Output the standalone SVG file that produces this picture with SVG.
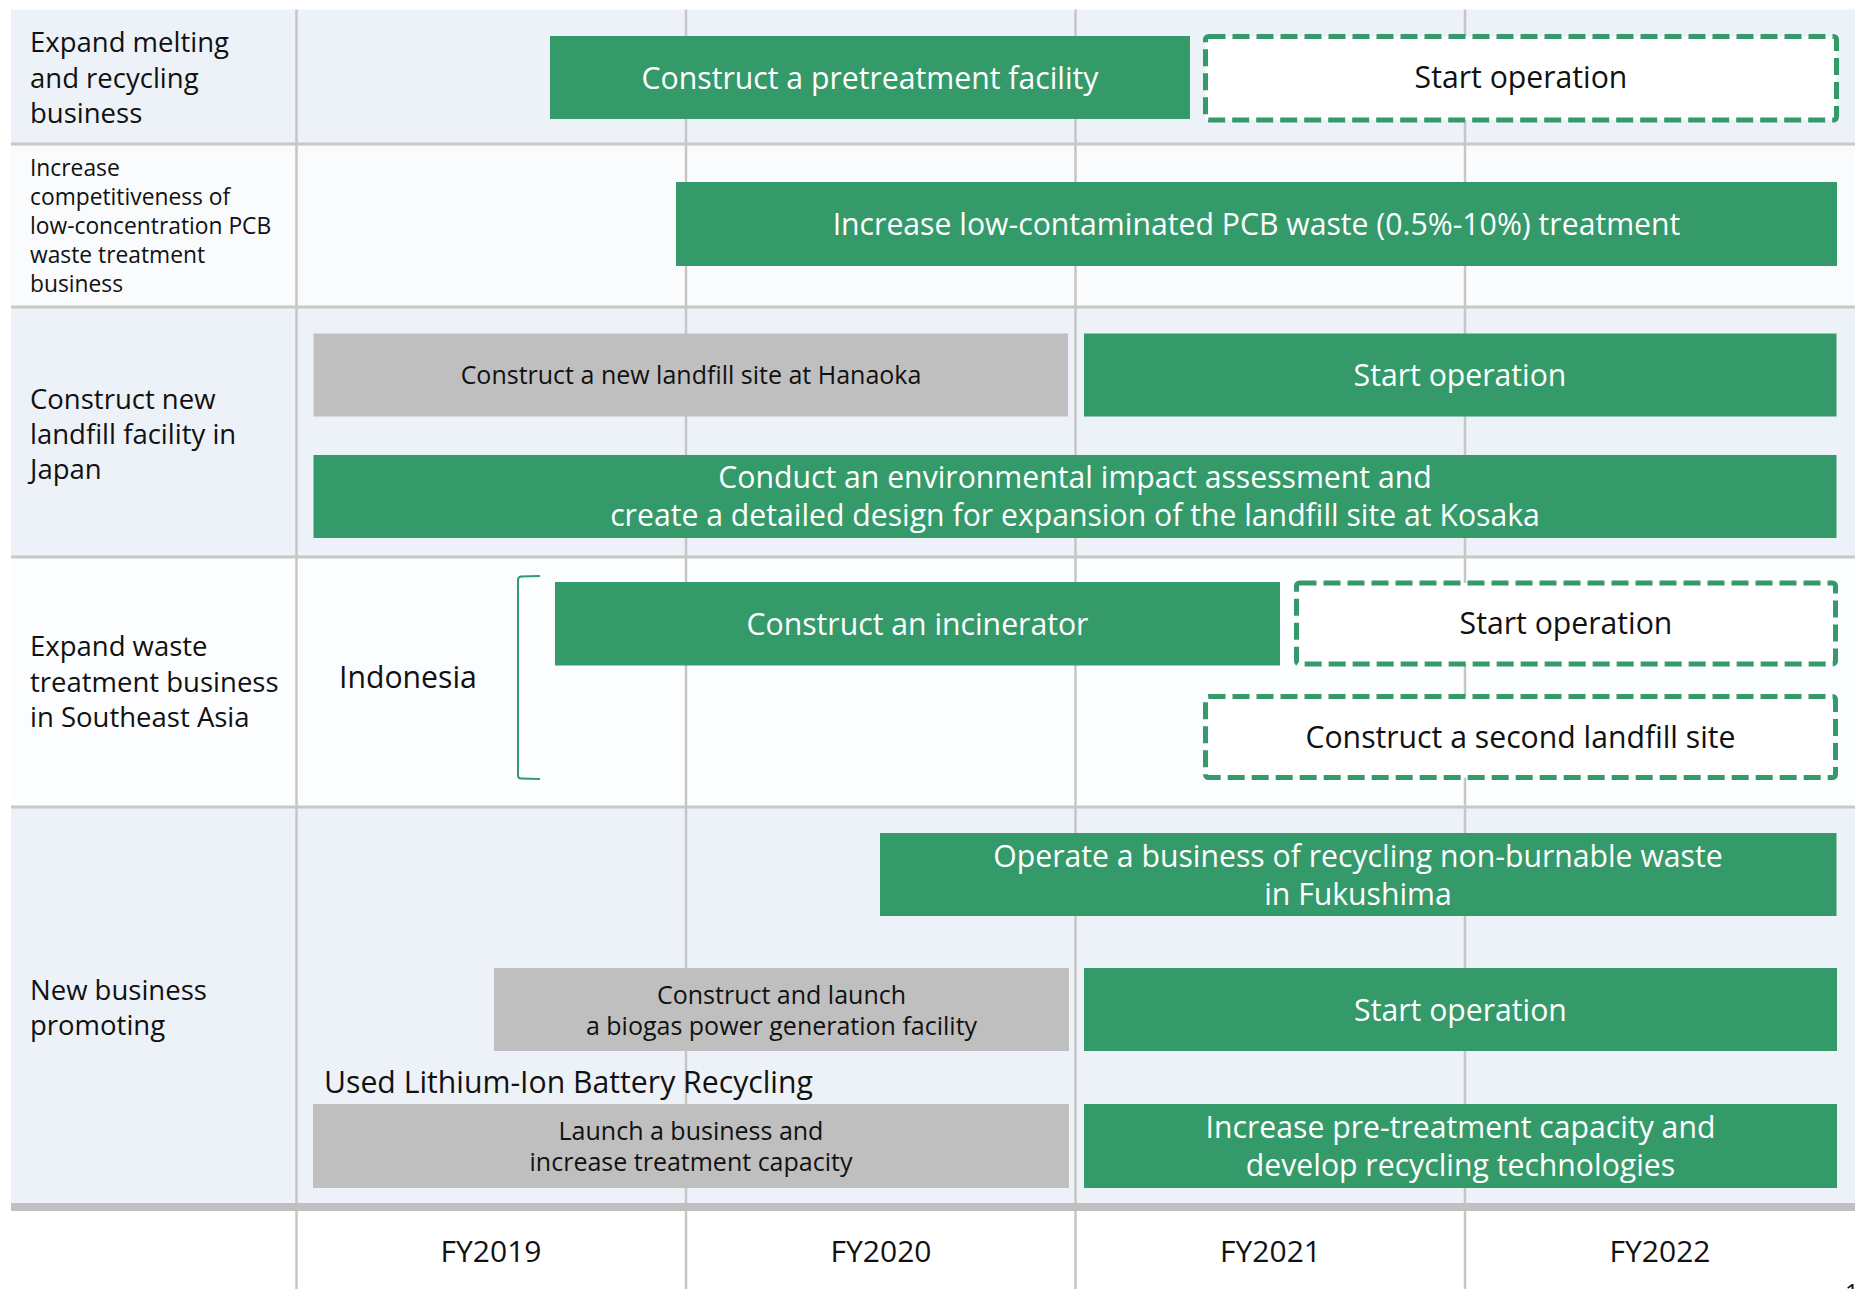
<svg xmlns="http://www.w3.org/2000/svg" width="1855" height="1289" viewBox="0 0 1855 1289">
  <style>
    text { font-family: "Open Sans", "Noto Sans", "Liberation Sans", sans-serif; }
    .lbl { font-size: 27.5px; fill: #111; }
    .lbl-s { font-size: 22.8px; fill: #111; }
    .bar { fill: #359a6a; }
    .gbar { fill: #bfbfbf; }
    .dbar { fill: #ffffff; stroke: #359a6a; stroke-width: 5; stroke-dasharray: 17 7; }
    .tw { font-size: 30.2px; fill: #ffffff; text-anchor: middle; }
    .tb { font-size: 30.2px; fill: #111; text-anchor: middle; }
    .tg { font-size: 25px; fill: #111; text-anchor: middle; }
    .vline { stroke: #c6c6c6; stroke-width: 2.5; }
    .hline { stroke: #c8c8c8; stroke-width: 3; }
    .yr { font-size: 30px; fill: #111; text-anchor: middle; }
  </style>

  <rect x="0" y="0" width="1855" height="1289" fill="#ffffff"/>

  <!-- row backgrounds -->
  <g id="rows">
    <rect x="11" y="9.5" width="1844" height="134.5" fill="#edf1f8"/>
    <rect x="11" y="144" width="1844" height="163" fill="#fafbfd"/>
    <rect x="11" y="307" width="1844" height="250" fill="#edf1f8"/>
    <rect x="11" y="557" width="1844" height="250" fill="#fcfdfe"/>
    <rect x="11" y="807" width="1844" height="396" fill="#edf1f8"/>
  </g>

  <!-- grid -->
  <g id="grid">
    <line class="vline" x1="296.5" y1="9.5" x2="296.5" y2="1289"/>
    <line class="vline" x1="686" y1="9.5" x2="686" y2="1289"/>
    <line class="vline" x1="1075.5" y1="9.5" x2="1075.5" y2="1289"/>
    <line class="vline" x1="1465" y1="9.5" x2="1465" y2="1289"/>
    <line class="hline" x1="11" y1="144" x2="1855" y2="144"/>
    <line class="hline" x1="11" y1="307" x2="1855" y2="307"/>
    <line class="hline" x1="11" y1="557" x2="1855" y2="557"/>
    <line class="hline" x1="11" y1="807" x2="1855" y2="807"/>
    <rect x="11" y="1203" width="1844" height="8" fill="#c0c0c0"/>
  </g>

  <!-- row labels -->
  <g id="label-melting">
    <text class="lbl" x="30" y="52">Expand melting</text>
    <text class="lbl" x="30" y="87.5">and recycling</text>
    <text class="lbl" x="30" y="123">business</text>
  </g>
  <g id="label-pcb">
    <text class="lbl-s" x="30" y="176">Increase</text>
    <text class="lbl-s" x="30" y="205">competitiveness of</text>
    <text class="lbl-s" x="30" y="234">low-concentration PCB</text>
    <text class="lbl-s" x="30" y="263">waste treatment</text>
    <text class="lbl-s" x="30" y="292">business</text>
  </g>
  <g id="label-landfill">
    <text class="lbl" x="30" y="409">Construct new</text>
    <text class="lbl" x="30" y="444">landfill facility in</text>
    <text class="lbl" x="30" y="479">Japan</text>
  </g>
  <g id="label-sea">
    <text class="lbl" x="30" y="656">Expand waste</text>
    <text class="lbl" x="30" y="692">treatment business</text>
    <text class="lbl" x="30" y="727">in Southeast Asia</text>
  </g>
  <g id="label-new">
    <text class="lbl" x="30" y="1000">New business</text>
    <text class="lbl" x="30" y="1035">promoting</text>
  </g>

  <!-- row 1 -->
  <g id="pretreatment">
    <rect class="bar" x="550" y="36" width="640" height="83"/>
    <text class="tw" x="870" y="88.5">Construct a pretreatment facility</text>
  </g>
  <g id="pretreatment-start">
    <rect class="dbar" x="1205.5" y="36.5" width="631" height="83.5" rx="3"/>
    <text class="tb" x="1521" y="88">Start operation</text>
  </g>

  <!-- row 2 -->
  <g id="pcb-increase">
    <rect class="bar" x="676" y="182" width="1161" height="84"/>
    <text class="tw" x="1256.5" y="235">Increase low-contaminated PCB waste (0.5%-10%) treatment</text>
  </g>

  <!-- row 3 -->
  <g id="hanaoka">
    <rect class="gbar" x="313.5" y="333.5" width="754.5" height="83"/>
    <text class="tg" x="691" y="384">Construct a new landfill site at Hanaoka</text>
  </g>
  <g id="hanaoka-start">
    <rect class="bar" x="1084" y="333.5" width="752.5" height="83"/>
    <text class="tw" x="1460" y="386">Start operation</text>
  </g>
  <g id="kosaka">
    <rect class="bar" x="313.5" y="455" width="1523" height="83"/>
    <text class="tw" x="1075" y="488">Conduct an environmental impact assessment and</text>
    <text class="tw" x="1075" y="526">create a detailed design for expansion of the landfill site at Kosaka</text>
  </g>

  <!-- row 4 -->
  <g id="indonesia">
    <text class="tb" x="339" y="688" style="text-anchor:start">Indonesia</text>
    <path d="M540 576 L521 576.5 Q518 577 518 580 L518 775 Q518 778.5 521 778.5 L540 779" fill="none" stroke="#359a6a" stroke-width="2"/>
  </g>
  <g id="incinerator">
    <rect class="bar" x="555" y="582" width="725" height="83.5"/>
    <text class="tw" x="917.5" y="635">Construct an incinerator</text>
  </g>
  <g id="incinerator-start">
    <rect class="dbar" x="1296.5" y="583" width="539" height="81" rx="3"/>
    <text class="tb" x="1566" y="634">Start operation</text>
  </g>
  <g id="second-landfill">
    <rect class="dbar" x="1205.5" y="696.5" width="630" height="81" rx="3"/>
    <text class="tb" x="1520.5" y="748">Construct a second landfill site</text>
  </g>

  <!-- row 5 -->
  <g id="fukushima">
    <rect class="bar" x="880" y="833" width="956.5" height="83"/>
    <text class="tw" x="1358" y="867">Operate a business of recycling non-burnable waste</text>
    <text class="tw" x="1358" y="905">in Fukushima</text>
  </g>
  <g id="biogas">
    <rect class="gbar" x="494" y="968" width="575" height="83"/>
    <text class="tg" x="781.5" y="1003.5">Construct and launch</text>
    <text class="tg" x="781.5" y="1035">a biogas power generation facility</text>
  </g>
  <g id="biogas-start">
    <rect class="bar" x="1084" y="968" width="753" height="83"/>
    <text class="tw" x="1460.5" y="1020.5">Start operation</text>
  </g>
  <g id="battery">
    <text class="tb" x="324" y="1093" style="text-anchor:start">Used Lithium-Ion Battery Recycling</text>
  </g>
  <g id="battery-launch">
    <rect class="gbar" x="313" y="1104" width="756" height="84"/>
    <text class="tg" x="691" y="1140">Launch a business and</text>
    <text class="tg" x="691" y="1171">increase treatment capacity</text>
  </g>
  <g id="battery-increase">
    <rect class="bar" x="1084" y="1104" width="753" height="84"/>
    <text class="tw" x="1460.5" y="1138">Increase pre-treatment capacity and</text>
    <text class="tw" x="1460.5" y="1176">develop recycling technologies</text>
  </g>

  <!-- fiscal years -->
  <g id="years">
    <text class="yr" x="491" y="1262">FY2019</text>
    <text class="yr" x="881" y="1262">FY2020</text>
    <text class="yr" x="1270.5" y="1262">FY2021</text>
    <text class="yr" x="1660" y="1262">FY2022</text>
  </g>

  <!-- page number, running off the bottom edge -->
  <text x="1845" y="1301" style="font-size:24px;fill:#111">1</text>
</svg>
